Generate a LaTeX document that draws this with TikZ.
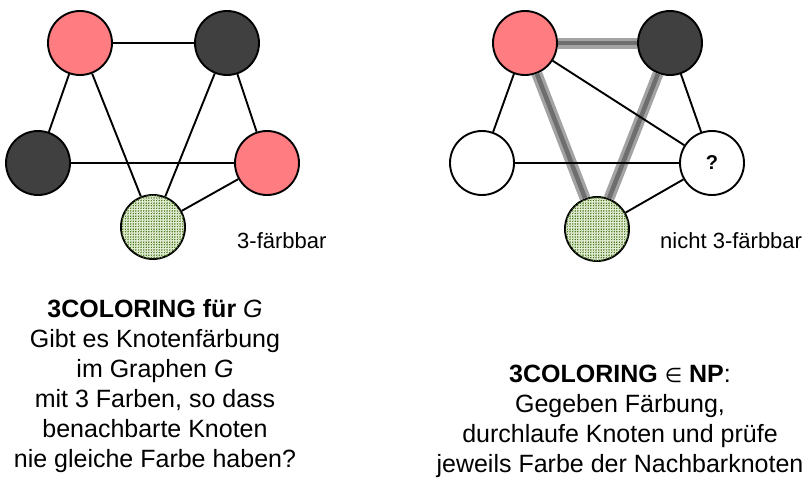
\documentclass[tikz,border=0pt]{standalone}
\usepackage{fontspec}
\setmainfont{Liberation Sans}
\newfontfamily\djv{DejaVu Sans}
\usetikzlibrary{patterns}
\pgfdeclarepatternformonly{fdots}{\pgfqpoint{-1pt}{-1pt}}{\pgfqpoint{1.5pt}{1.5pt}}{\pgfqpoint{2.6pt}{2.6pt}}{%
  \pgfpathrectangle{\pgfqpoint{0pt}{0pt}}{\pgfqpoint{1.15pt}{1.15pt}}%
  \pgfpathrectangle{\pgfqpoint{1.3pt}{1.3pt}}{\pgfqpoint{1.15pt}{1.15pt}}%
  \pgfusepath{fill}}
\definecolor{nred}{HTML}{FF7C80}
\definecolor{ndark}{HTML}{404040}
\definecolor{ngreenbg}{HTML}{E6EFD6}
\definecolor{ngreendot}{HTML}{4A7A22}
\definecolor{hlout}{HTML}{A3A3A3}
\definecolor{hlin}{HTML}{6E6E6E}
\tikzset{
  vert/.style={circle, draw=black, line width=1.9pt, minimum size=64pt, inner sep=0pt},
  vred/.style={vert, fill=nred},
  vdark/.style={vert, fill=ndark},
  vwhite/.style={vert, fill=white},
  vgreen/.style={vert, fill=ngreenbg, postaction={pattern=fdots, pattern color=ngreendot}},
  edge/.style={line width=1.9pt, black},
  hledge/.style={line width=11pt, hlout, postaction={draw=hlin, line width=4.5pt}},
  maintext/.style={font=\fontsize{25}{30}\selectfont, align=center, inner sep=0pt, anchor=base},
  lbl/.style={font=\fontsize{22}{26}\selectfont, inner sep=0pt, anchor=base west},
}
\begin{document}
\begin{tikzpicture}[x=1pt,y=-1pt]
\useasboundingbox (0,0) rectangle (810,482);
% left graph
\node[vred]   (a1) at (80,43) {};
\node[vdark]  (a2) at (227,43) {};
\node[vdark]  (a3) at (38,163) {};
\node[vred]   (a4) at (267,163) {};
\node[vgreen] (a5) at (153,227) {};
\draw[edge] (a1) -- (a2);
\draw[edge] (a1) -- (a3);
\draw[edge] (a1) -- (a5);
\draw[edge] (a2) -- (a5);
\draw[edge] (a2) -- (a4);
\draw[edge] (a3) -- (a4);
\draw[edge] (a4) -- (a5);
\node[lbl] (l1) at (237,248) {3-färbbar};
% right graph
\node[vred]   (b1) at (525,43) {};
\node[vdark]  (b2) at (670,43) {};
\node[vwhite] (b3) at (482,163) {};
\node[vwhite, font=\fontsize{20}{24}\selectfont\bfseries] (b4) at (712,163) {?};
\node[vgreen] (b5) at (597,229) {};
\draw[hledge] (b1) -- (b2);
\draw[hledge] (b1) -- (b5);
\draw[hledge] (b2) -- (b5);
\draw[edge] (b1) -- (b3);
\draw[edge] (b1) -- (b4);
\draw[edge] (b2) -- (b4);
\draw[edge] (b3) -- (b4);
\draw[edge] (b4) -- (b5);
\node[lbl] (l2) at (660,248) {nicht 3-färbbar};
% texts
\node[maintext] (t1) at (155,467) {\textbf{3COLORING für} \textit{G}\\
Gibt es Knotenfärbung\\
im Graphen \textit{G}\\
mit 3 Farben, so dass\\
benachbarte Knoten\\
nie gleiche Farbe haben?};
\node[maintext] (t2) at (620,472) {\textbf{3COLORING} {\djv\fontsize{20}{26}\selectfont ∈} \textbf{NP}:\\
Gegeben Färbung,\\
durchlaufe Knoten und prüfe\\
jeweils Farbe der Nachbarknoten};
\end{tikzpicture}
\end{document}
